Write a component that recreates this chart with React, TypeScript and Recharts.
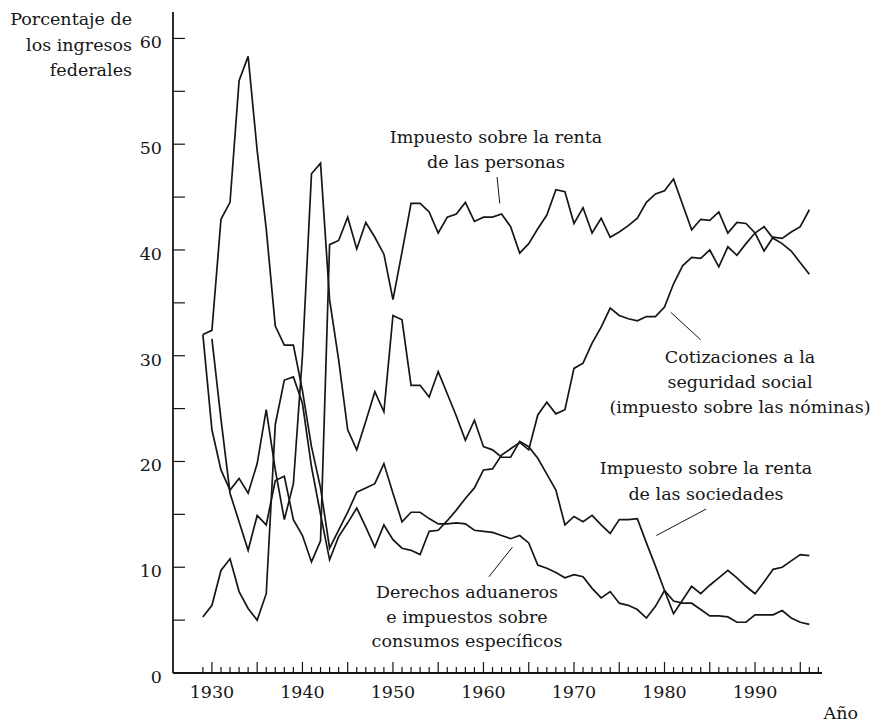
import React from "react";
import { LineChart, Line, XAxis, YAxis, ReferenceLine } from "recharts";

// Federal revenue shares by source, 1929-1996 (percent of total)
const YEARS = [
  1929, 1930, 1931, 1932, 1933, 1934, 1935, 1936, 1937, 1938, 1939,
  1940, 1941, 1942, 1943, 1944, 1945, 1946, 1947, 1948, 1949,
  1950, 1951, 1952, 1953, 1954, 1955, 1956, 1957, 1958, 1959,
  1960, 1961, 1962, 1963, 1964, 1965, 1966, 1967, 1968, 1969,
  1970, 1971, 1972, 1973, 1974, 1975, 1976, 1977, 1978, 1979,
  1980, 1981, 1982, 1983, 1984, 1985, 1986, 1987, 1988, 1989,
  1990, 1991, 1992, 1993, 1994, 1995, 1996,
];

const PERSONAS = [
  null, 31.6, 24.0, 17.0, 14.3, 11.6, 14.9, 14.0, 18.2, 18.6, 14.5,
  13.0, 10.5, 12.5, 40.5, 40.9, 43.1, 40.1, 42.6, 41.2, 39.6,
  35.3, 39.8, 44.4, 44.4, 43.6, 41.6, 43.1, 43.4, 44.5, 42.7,
  43.1, 43.1, 43.4, 42.2, 39.7, 40.6, 42.0, 43.3, 45.7, 45.5,
  42.5, 44.0, 41.6, 43.0, 41.2, 41.7, 42.3, 43.0, 44.5, 45.3,
  45.6, 46.7, 44.3, 41.9, 42.9, 42.8, 43.6, 41.6, 42.6, 42.5,
  41.6, 39.9, 41.2, 41.1, 41.7, 42.2, 43.8,
];

const SOCIEDADES = [
  32.0, 23.0, 19.2, 17.3, 18.4, 17.0, 19.8, 24.9, 19.2, 14.5, 17.9,
  30.0, 47.2, 48.2, 35.3, 29.6, 23.0, 21.1, 23.8, 26.6, 24.7,
  33.8, 33.4, 27.2, 27.2, 26.1, 28.5, 26.4, 24.3, 22.0, 23.9,
  21.4, 21.1, 20.4, 20.4, 21.9, 21.4, 20.3, 18.8, 17.3, 14.0,
  14.8, 14.3, 14.9, 14.0, 13.2, 14.5, 14.5, 14.6, 12.3, 10.1,
  7.8, 5.6, 6.9, 8.2, 7.5, 8.3, 9.0, 9.7, 9.0, 8.2,
  7.5, 8.6, 9.8, 10.0, 10.6, 11.2, 11.1,
];

const SEGURIDAD_SOCIAL = [
  5.3, 6.4, 9.7, 10.8, 7.7, 6.1, 5.0, 7.5, 23.5, 27.7, 28.0,
  25.5, 19.5, 15.0, 10.7, 12.9, 14.2, 15.6, 13.8, 11.9, 14.0,
  12.6, 11.8, 11.6, 11.2, 13.4, 13.5, 14.4, 15.4, 16.5, 17.5,
  19.2, 19.3, 20.6, 21.2, 21.8, 21.1, 24.4, 25.6, 24.5, 24.9,
  28.8, 29.3, 31.2, 32.7, 34.5, 33.8, 33.5, 33.3, 33.7, 33.7,
  34.6, 36.8, 38.5, 39.3, 39.2, 40.0, 38.4, 40.3, 39.5, 40.6,
  41.6, 42.2, 41.1, 40.6, 39.9, 38.8, 37.7,
];

const ADUANAS_CONSUMOS = [
  32.0, 32.4, 42.9, 44.5, 56.0, 58.3, 49.4, 42.0, 32.8, 31.0, 31.0,
  26.7, 21.4, 17.5, 11.8, 13.5, 15.2, 17.1, 17.5, 17.9, 19.8,
  17.0, 14.3, 15.2, 15.2, 14.6, 14.1, 14.1, 14.2, 14.1, 13.5,
  13.4, 13.3, 13.0, 12.7, 13.0, 12.3, 10.2, 9.9, 9.5, 9.0,
  9.3, 9.1, 8.0, 7.1, 7.7, 6.6, 6.4, 6.0, 5.2, 6.3,
  7.8, 6.8, 6.6, 6.6, 6.0, 5.4, 5.4, 5.3, 4.8, 4.8,
  5.5, 5.5, 5.5, 5.9, 5.2, 4.8, 4.6,
];

const X_LABELS = [1930, 1940, 1950, 1960, 1970, 1980, 1990];
const X_TICKS = Array.from({ length: 69 }, (_, i) => 1929 + i);
const Y_LABELS = [0, 10, 20, 30, 40, 50, 60];
const Y_TICKS = [0, 5, 10, 15, 20, 25, 30, 35, 40, 45, 50, 55, 60];

const data = YEARS.map((year, i) => ({
  year,
  personas: PERSONAS[i],
  sociedades: SOCIEDADES[i],
  seguridad: SEGURIDAD_SOCIAL[i],
  aduanas: ADUANAS_CONSUMOS[i],
}));

const INK = "#161616";
const FONT = "'DejaVu Serif', serif";
const FS = 17.5;

// leader lines from labels to curves, in data units
const LEADERS = [
  [{ x: 1961.5, y: 46.9 }, { x: 1961.8, y: 44.4 }],
  [{ x: 1980.7, y: 34.1 }, { x: 1984.0, y: 31.5 }],
  [{ x: 1984.6, y: 15.5 }, { x: 1979.1, y: 13.0 }],
  [{ x: 1960.6, y: 9.1 }, { x: 1963.2, y: 11.9 }],
];

function XTick({ x, y, payload }: any) {
  const v = payload.value;
  const major = v % 5 === 0;
  return (
    <g>
      <line x1={x} x2={x} y1={y} y2={y - (major ? 11 : 6)} stroke={INK} strokeWidth={1.2} />
      {X_LABELS.includes(v) && (
        <text x={x} y={y + 25} textAnchor="middle" fontFamily={FONT} fontSize={FS} fill={INK}>
          {v}
        </text>
      )}
    </g>
  );
}

function YTick({ x, y, payload }: any) {
  const v = payload.value;
  return (
    <g>
      <line x1={x} x2={x + 12} y1={y} y2={y} stroke={INK} strokeWidth={1.2} />
      {Y_LABELS.includes(v) && (
        <text x={x - 11} y={y + 10} textAnchor="end" fontFamily={FONT} fontSize={FS} fill={INK}>
          {v}
        </text>
      )}
    </g>
  );
}

function Txt({ x, y, anchor = "middle", children }: any) {
  return (
    <text x={x} y={y} textAnchor={anchor} fontFamily={FONT} fontSize={FS} fill={INK}>
      {children}
    </text>
  );
}

export default function App() {
  const series = ["personas", "sociedades", "seguridad", "aduanas"];
  return (
    <div style={{ position: "absolute", left: 0, top: 0, width: 885, height: 723, background: "#fff" }}>
      <LineChart width={885} height={723} data={data} margin={{ top: 12, right: 63, bottom: 0, left: 0 }}>
        <XAxis
          dataKey="year"
          type="number"
          domain={[1925.7, 1997.4]}
          ticks={X_TICKS}
          interval={0}
          height={50}
          tickSize={0}
          tickMargin={0}
          tickLine={false}
          tick={<XTick />}
          axisLine={{ stroke: INK, strokeWidth: 1.8 }}
          allowDataOverflow
        />
        <YAxis
          type="number"
          domain={[0, 62.5]}
          ticks={Y_TICKS}
          interval={0}
          width={173}
          tickSize={0}
          tickMargin={0}
          tickLine={false}
          tick={<YTick />}
          axisLine={{ stroke: INK, strokeWidth: 1.8 }}
          allowDataOverflow
        />
        {series.map((k) => (
          <Line
            key={k}
            type="linear"
            dataKey={k}
            stroke={INK}
            strokeWidth={1.7}
            dot={false}
            activeDot={false}
            isAnimationActive={false}
          />
        ))}
        {LEADERS.map((seg, i) => (
          <ReferenceLine key={i} segment={seg} stroke={INK} strokeWidth={1} />
        ))}
      </LineChart>
      <svg width={885} height={723} style={{ position: "absolute", left: 0, top: 0, pointerEvents: "none" }}>
        <Txt x={132} y={24.5} anchor="end">Porcentaje de</Txt>
        <Txt x={132} y={50.5} anchor="end">los ingresos</Txt>
        <Txt x={132} y={76} anchor="end">federales</Txt>
        <Txt x={858} y={719} anchor="end">Año</Txt>

        <Txt x={496} y={143}>Impuesto sobre la renta</Txt>
        <Txt x={496} y={168}>de las personas</Txt>

        <Txt x={740} y={363}>Cotizaciones a la</Txt>
        <Txt x={740} y={388}>seguridad social</Txt>
        <Txt x={740} y={413}>(impuesto sobre las nóminas)</Txt>

        <Txt x={706} y={474}>Impuesto sobre la renta</Txt>
        <Txt x={706} y={500}>de las sociedades</Txt>

        <Txt x={467} y={598}>Derechos aduaneros</Txt>
        <Txt x={467} y={623}>e impuestos sobre</Txt>
        <Txt x={467} y={647}>consumos específicos</Txt>
      </svg>
    </div>
  );
}
